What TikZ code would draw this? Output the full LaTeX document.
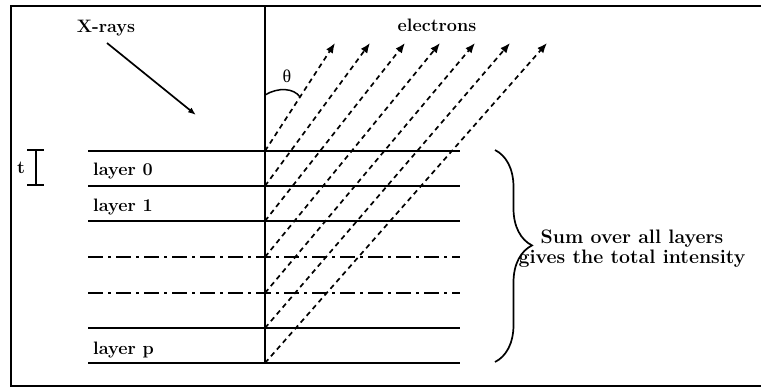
\documentclass[tikz,border=0pt]{standalone}
\usepackage{fontspec}
\newfontfamily\grfont{Liberation Serif}
\usetikzlibrary{arrows.meta,decorations.pathreplacing}
\begin{document}
\begin{tikzpicture}[x=1pt,y=-1pt,
  lbl/.style={font=\fontsize{18}{20}\selectfont\bfseries, inner sep=0pt},
  layerline/.style={line width=2.2pt},
  dashdotline/.style={line width=2.2pt, dash pattern=on 15pt off 5pt on 3pt off 5pt},
  electron/.style={line width=1.7pt, dash pattern=on 5pt off 4pt, -{Latex[length=10pt,width=8pt]}},
  xray/.style={line width=1.7pt, -{Latex[length=8pt,width=6pt]}}]
\useasboundingbox (0,0) rectangle (761,389);
\draw[line width=1.6pt] (761,6) -- (11,6) -- (11,386) -- (761,386);
% layer boundaries
\foreach \n/\y in {0/151,1/186,2/221,3/257,4/293,5/328,6/363}{
  \coordinate (L\n) at (88,\y);
  \coordinate (R\n) at (460,\y);
  \coordinate (S\n) at (265,\y);
}
\foreach \n in {0,1,2,5,6}{\draw[layerline] (L\n) -- (R\n);}
\foreach \n in {3,4}{\draw[dashdotline] (L\n) -- (R\n);}
% vertical surface normal
\coordinate (top) at (265,6);
\draw[line width=2.2pt] (top) -- (S6);
% electron arrows
\foreach \n/\x in {0/335,1/370,2/405,3/440,4/475,5/510,6/547}{
  \coordinate (T\n) at (\x,43);
  \draw[electron] (S\n) -- (T\n);
}
% X-ray arrow
\coordinate (xa) at (107,43);
\coordinate (xb) at (196,115);
\draw[xray] (xa) -- (xb);
\node[lbl] (xrays) at (106,28) {X-rays};
\node[lbl] (electrons) at (437,25) {electrons};
% theta
\coordinate (th1) at (265,95);
\coordinate (th2) at (300,97);
\draw[line width=1.5pt] (th1) .. controls (278,87) and (294,88) .. (th2);
\node[font=\fontsize{18}{20}\selectfont\grfont, inner sep=0pt] (theta) at (287,76) {θ};
% thickness t
\coordinate (ta) at (36,150);
\coordinate (tb) at (36,185);
\draw[line width=2pt] (ta) -- (tb) (27,150) -- (44,150) (27,185) -- (44,185);
\node[lbl] (t) at (21,168) {t};
% layer labels
\node[lbl, anchor=base west] (lay0) at (93,175) {layer 0};
\node[lbl, anchor=base west] (lay1) at (93,211) {layer 1};
\node[lbl, anchor=base west] (layp) at (93,354) {layer p};
% brace
\coordinate (ba) at (495,150);
\coordinate (bb) at (495,362);
\draw[line width=1.7pt, decorate, decoration={brace, amplitude=37pt, aspect=0.45}] (ba) -- (bb);
\node[font=\fontsize{19.5}{20}\selectfont\bfseries, inner sep=0pt, align=center] (sum) at (632,249) {Sum over all layers\\gives the total intensity};
\end{tikzpicture}
\end{document}
